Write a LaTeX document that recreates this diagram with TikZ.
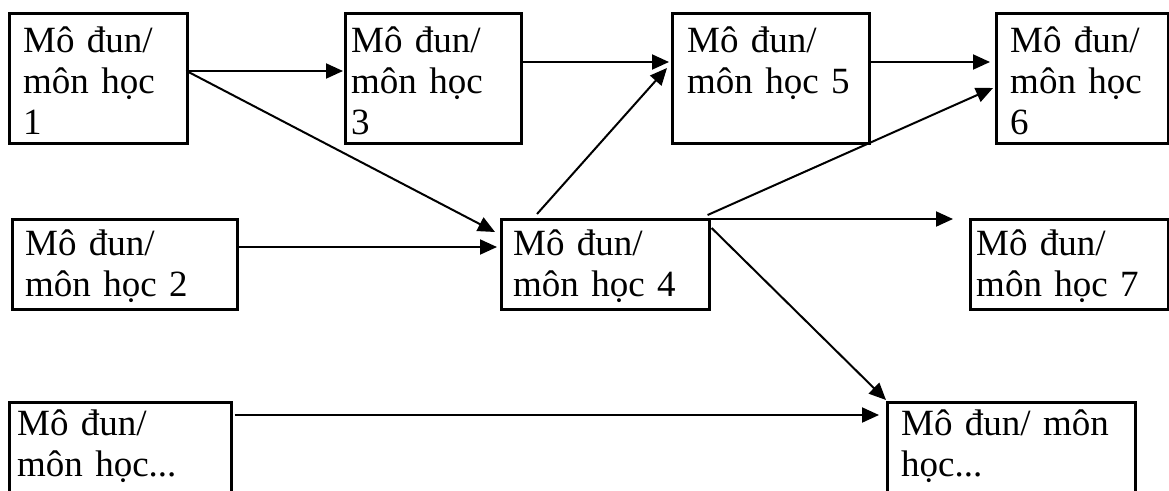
\documentclass[tikz,border=0pt]{standalone}
\usepackage{fontspec}
\setmainfont{Liberation Serif}
\usetikzlibrary{arrows.meta,calc}
\begin{document}
\begin{tikzpicture}[x=1pt,y=-1pt,
  box/.style={draw, line width=2.6pt, inner sep=0pt, anchor=north west},
  txt/.style={anchor=base west, inner sep=0pt, align=left, text width=260pt,
              font=\fontsize{37}{41}\selectfont},
  conn/.style={line width=2pt, -{Triangle[length=17pt,width=15pt]}}]
\useasboundingbox (0,0) rectangle (1169,490);
\clip (0,0) rectangle (1169,490);
% boxes
\node[box, minimum width=178pt, minimum height=130pt] (b1) at (8,12) {};
\node[box, minimum width=176pt, minimum height=130pt] (b3) at (344,12) {};
\node[box, minimum width=197pt, minimum height=130pt] (b5) at (671,12) {};
\node[box, minimum width=172pt, minimum height=130pt] (b6) at (995,12) {};
\node[box, minimum width=225pt, minimum height=90pt] (b2) at (11,218) {};
\node[box, minimum width=208pt, minimum height=90pt] (b4) at (500,218) {};
\node[box, minimum width=198pt, minimum height=90pt] (b7) at (969,218) {};
\node[box, minimum width=222pt, minimum height=110pt] (b8) at (8,401) {};
\node[box, minimum width=248pt, minimum height=110pt] (b9) at (886,401) {};
% texts
\node[txt] (t1) at ($(b1.north west)+(15,40)$) {Mô đun/\\môn học\\1};
\node[txt] (t3) at ($(b3.north west)+(7,40)$) {Mô đun/\\môn học\\3};
\node[txt] (t5) at ($(b5.north west)+(16,40)$) {Mô đun/\\môn học 5};
\node[txt] (t6) at ($(b6.north west)+(15,40)$) {Mô đun/\\môn học\\6};
\node[txt] (t2) at ($(b2.north west)+(14,37)$) {Mô đun/\\môn học 2};
\node[txt] (t4) at ($(b4.north west)+(13,37)$) {Mô đun/\\môn học 4};
\node[txt] (t7) at ($(b7.north west)+(7,37)$) {Mô đun/\\môn học 7};
\node[txt] (t8) at ($(b8.north west)+(9,34)$) {Mô đun/\\môn học...};
\node[txt] (t9) at ($(b9.north west)+(15,34)$) {Mô đun/ môn\\học...};
% connectors
\draw[conn] ($(b1.north east)+(-3,59)$) -- ($(b3.north west)+(-1,59)$);
\draw[conn] ($(b1.north east)+(-2,59)$) -- ($(b4.north west)+(-5,14)$);
\draw[conn] ($(b2.north east)+(0,29)$) -- ($(b4.north west)+(-3,29)$);
\draw[conn] ($(b3.north east)+(0,50)$) -- ($(b5.north west)+(-2,50)$);
\draw[conn] ($(b4.north west)+(37,-4)$) -- ($(b5.north west)+(-4,56)$);
\draw[conn] ($(b5.north east)+(0,50)$) -- ($(b6.north west)+(-5,50)$);
\draw[conn] ($(b4.north east)+(-3,-3)$) -- ($(b6.north west)+(-2,76)$);
\draw[conn] ($(b4.north east)+(0,1)$) -- ($(b7.north west)+(-16,1)$);
\draw[conn] ($(b4.north east)+(1,10)$) -- ($(b9.north west)+(0,-1)$);
\draw[conn] ($(b8.north east)+(2,14)$) -- ($(b9.north west)+(-7,14)$);
\end{tikzpicture}
\end{document}
